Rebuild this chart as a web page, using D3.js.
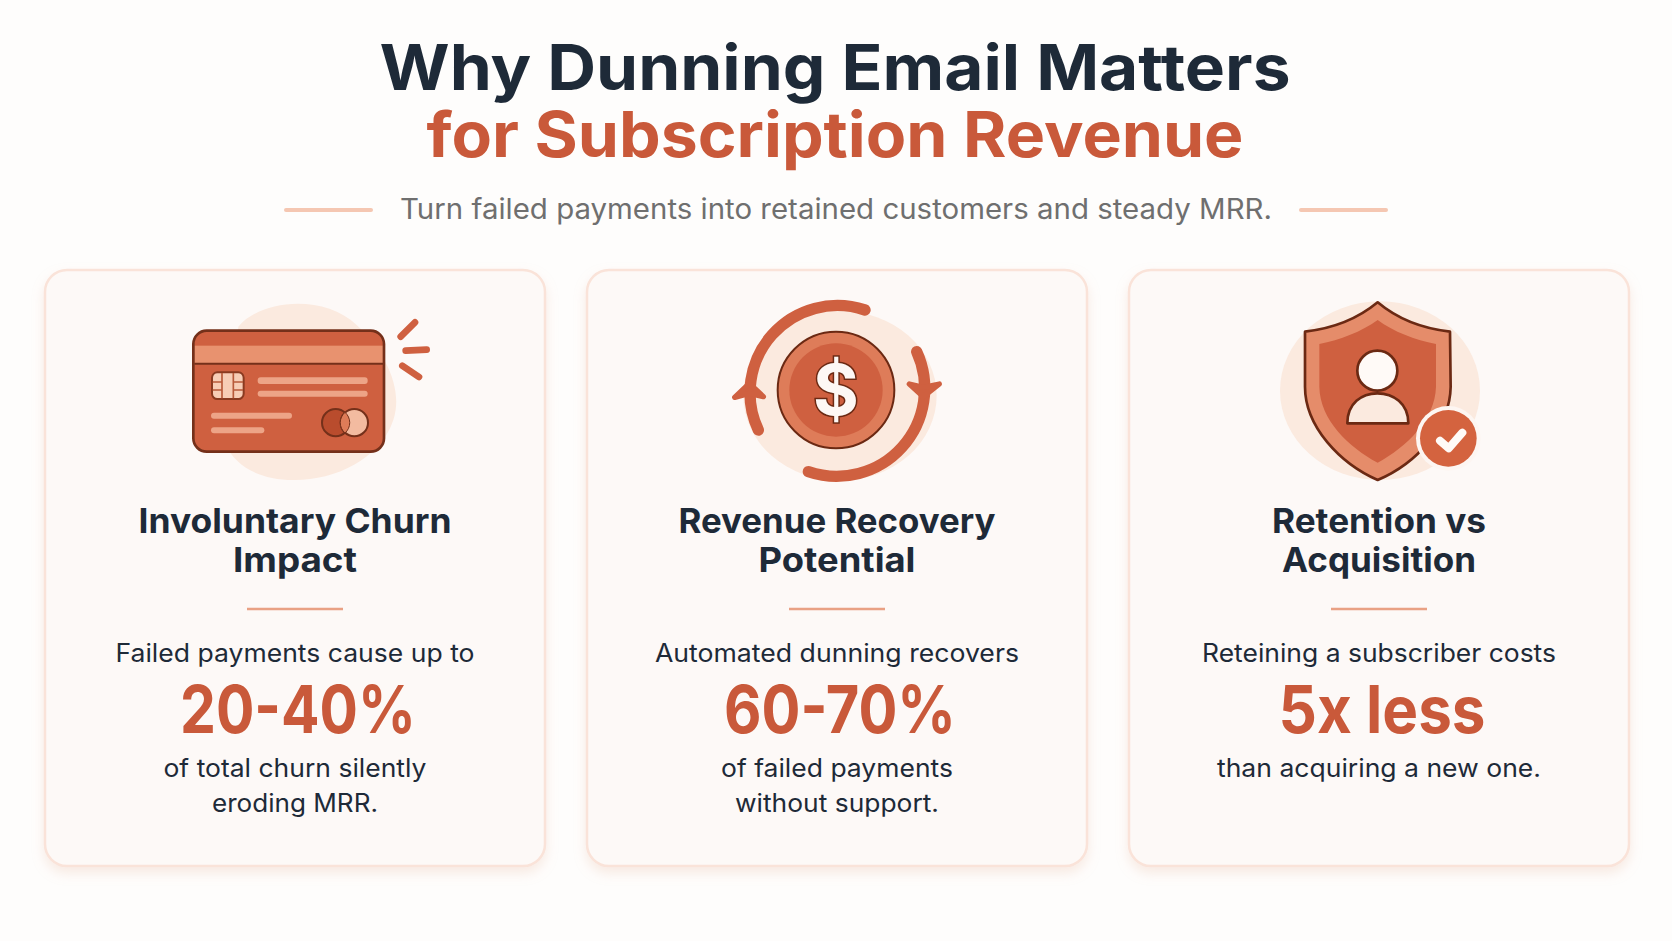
<!DOCTYPE html>
<html lang="en">
<head>
<meta charset="UTF-8">
<title>Why Dunning Email Matters</title>
<script src="https://cdnjs.cloudflare.com/ajax/libs/d3/7.8.5/d3.min.js"></script>
<style>
  html, body { margin: 0; padding: 0; background: #fefdfc; }
  svg { display: block; }
  text { font-family: Inter, "Noto Sans", sans-serif; text-anchor: middle; }
</style>
</head>
<body>
<div id="chart"></div>
<script>
// content
const titleLines = ["Why Dunning Email Matters", "for Subscription Revenue"];
const subtitle = "Turn failed payments into retained customers and steady MRR.";
const categories = ["churn", "recovery", "retention"];
const headings = [["Involuntary Churn", "Impact"], ["Revenue Recovery", "Potential"], ["Retention vs", "Acquisition"]];
const leads = ["Failed payments cause up to", "Automated dunning recovers", "Reteining a subscriber costs"];
const stats = ["20-40%", "60-70%", "5x less"];
const tails = [["of total churn silently", "eroding MRR."], ["of failed payments", "without support."], ["than acquiring a new one."]];

// measured text widths, the reference font runs wider than Inter
const titleW = [911, 817];
const headingW = [[313, 124], [317, 157], [214, 194]];
const leadW = [359, 364, 354];
const statW = [236, 232, 207];
const tailW = [[263, 166], [232, 204], [324]];

const width = 1672, height = 941;
const dark = "#1e2a38", accent = "#c9593a", ink = "#74301a", orange = "#cf6040", pale = "#fbeadf";

const svg = d3.select("#chart").append("svg").attr("width", width).attr("height", height);

function fit(sel, w) {
  return sel.attr("textLength", w).attr("lengthAdjust", "spacingAndGlyphs");
}

const defs = svg.append("defs");
const shadow = defs.append("filter").attr("id", "cardShadow")
  .attr("x", "-5%").attr("y", "-5%").attr("width", "110%").attr("height", "112%");
shadow.append("feDropShadow").attr("dx", 0).attr("dy", 6).attr("stdDeviation", 6)
  .attr("flood-color", "#e8b8a0").attr("flood-opacity", 0.28);

// title block
svg.selectAll(".title").data(titleLines).join("text")
  .attr("class", "title")
  .attr("x", 835).attr("y", (d, i) => 90 + i * 67)
  .attr("font-size", 63).attr("font-weight", 700)
  .attr("fill", (d, i) => i ? accent : dark)
  .attr("textLength", (d, i) => titleW[i]).attr("lengthAdjust", "spacingAndGlyphs")
  .text(d => d);

fit(svg.append("text").attr("x", 836).attr("y", 219)
  .attr("font-size", 28).attr("fill", "#6f6f6f").text(subtitle), 872);

svg.selectAll(".dash").data([286, 1301]).join("line")
  .attr("class", "dash")
  .attr("x1", d => d).attr("x2", d => d + 85)
  .attr("y1", 210).attr("y2", 210)
  .attr("stroke", "#f5c7b2").attr("stroke-width", 4).attr("stroke-linecap", "round");

// cards
const x = d3.scaleBand().domain(categories).range([45, 1629]).paddingInner(0.0775);

const card = svg.selectAll(".card").data(categories).join("g")
  .attr("class", "card")
  .attr("transform", d => `translate(${x(d)},270)`);

card.append("rect")
  .attr("width", x.bandwidth()).attr("height", 596).attr("rx", 22)
  .attr("fill", "#fdf9f7").attr("stroke", "#fae3d9").attr("stroke-width", 2.5)
  .attr("filter", "url(#cardShadow)");

const mid = x.bandwidth() / 2;

card.each(function (d, i) {
  const g = d3.select(this);
  headings[i].forEach((line, j) => {
    fit(g.append("text").attr("x", mid).attr("y", 263 + j * 39)
      .attr("font-size", 34).attr("font-weight", 700).attr("fill", dark).text(line), headingW[i][j]);
  });
  g.append("line").attr("x1", mid - 48).attr("x2", mid + 48).attr("y1", 339).attr("y2", 339)
    .attr("stroke", "#e9a184").attr("stroke-width", 2.5);
  fit(g.append("text").attr("x", mid).attr("y", 392)
    .attr("font-size", 25).attr("fill", dark).text(leads[i]), leadW[i]);
  fit(g.append("text").attr("x", mid + 3).attr("y", 463)
    .attr("font-size", 66).attr("font-weight", 700).attr("fill", accent).text(stats[i]), statW[i]);
  tails[i].forEach((line, j) => {
    fit(g.append("text").attr("x", mid).attr("y", 507 + j * 35)
      .attr("font-size", 25).attr("fill", dark).text(line), tailW[i][j]);
  });
});

// icons, drawn in a 3x space so the numbers are easy to compare with a zoomed crop
function icon(ox, oy) {
  return svg.append("g").attr("transform", `translate(${ox},${oy}) scale(${1 / 3})`);
}

// credit card
const cc = icon(160, 280);
cc.append("path")
  .attr("d", "M235,140 C300,60 490,40 590,135 C680,220 730,330 700,420 C660,540 520,602 400,600 C300,600 225,560 195,490 Z")
  .attr("fill", pale);
cc.append("rect").attr("x", 100).attr("y", 152).attr("width", 572).attr("height", 363).attr("rx", 40)
  .attr("fill", orange);
cc.append("rect").attr("x", 103).attr("y", 197).attr("width", 566).attr("height", 52).attr("fill", "#e8926f");
cc.append("line").attr("x1", 103).attr("x2", 669).attr("y1", 251).attr("y2", 251)
  .attr("stroke", ink).attr("stroke-width", 6);
cc.append("rect").attr("x", 100).attr("y", 152).attr("width", 572).attr("height", 363).attr("rx", 40)
  .attr("fill", "none").attr("stroke", ink).attr("stroke-width", 8);
cc.append("rect").attr("x", 156).attr("y", 277).attr("width", 95).attr("height", 80).attr("rx", 16)
  .attr("fill", "#f7cdb6").attr("stroke", "#8a3a20").attr("stroke-width", 6);
cc.append("path").attr("d", "M186,279 V355 M220,279 V355 M158,306 H186 M158,330 H186 M220,306 H249 M220,330 H249")
  .attr("fill", "none").attr("stroke", "#b85a3a").attr("stroke-width", 5);
[[293, 292, 330, 20], [293, 332, 330, 18], [153, 398, 243, 18], [153, 442, 160, 18]].forEach(r => {
  cc.append("rect").attr("x", r[0]).attr("y", r[1]).attr("width", r[2]).attr("height", r[3]).attr("rx", 9)
    .attr("fill", "#eda487");
});
cc.append("circle").attr("cx", 527).attr("cy", 428).attr("r", 41)
  .attr("fill", "#b94c2d").attr("stroke", ink).attr("stroke-width", 6);
cc.append("circle").attr("cx", 583).attr("cy", 428).attr("r", 41)
  .attr("fill", "#f3bba0").attr("stroke", ink).attr("stroke-width", 6);
cc.append("path").attr("d", "M555,397 A41,41 0 0 1 555,459 A41,41 0 0 1 555,397 Z")
  .attr("fill", "#de7c58").attr("stroke", ink).attr("stroke-width", 3);
[[722, 170, 765, 127], [737, 212, 800, 209], [727, 257, 777, 291]].forEach(s => {
  cc.append("line").attr("x1", s[0]).attr("y1", s[1]).attr("x2", s[2]).attr("y2", s[3])
    .attr("stroke", orange).attr("stroke-width", 20).attr("stroke-linecap", "round");
});

// coin with arrows
const coin = icon(710, 280);
coin.append("ellipse").attr("cx", 390).attr("cy", 347).attr("rx", 290).attr("ry", 255).attr("fill", pale);
coin.append("path").attr("d", "M465,90 A262,262 0 0 0 145,450")
  .attr("fill", "none").attr("stroke", orange).attr("stroke-width", 34).attr("stroke-linecap", "round");
coin.append("path").attr("d", "M620,215 A264,264 0 0 1 295,575")
  .attr("fill", "none").attr("stroke", orange).attr("stroke-width", 34).attr("stroke-linecap", "round");
coin.append("path").attr("d", "M118,310 L160,350 L118,340 L74,352 Z")
  .attr("fill", orange).attr("stroke", orange).attr("stroke-width", 16).attr("stroke-linejoin", "round");
coin.append("path").attr("d", "M640,350 L598,312 L640,322 L688,312 Z")
  .attr("fill", orange).attr("stroke", orange).attr("stroke-width", 16).attr("stroke-linejoin", "round");
coin.append("circle").attr("cx", 378).attr("cy", 330).attr("r", 175)
  .attr("fill", "#de7c59").attr("stroke", "#6b2913").attr("stroke-width", 6);
coin.append("circle").attr("cx", 378).attr("cy", 330).attr("r", 140).attr("fill", orange);
coin.append("text").attr("x", 378).attr("y", 405)
  .attr("font-size", 210).attr("font-weight", 700)
  .attr("fill", "#fdf8f5").attr("stroke", "#6b2913").attr("stroke-width", 9)
  .attr("paint-order", "stroke").text("$");

// shield with subscriber and check badge
const shield = icon(1260, 280);
shield.append("ellipse").attr("cx", 360).attr("cy", 332).attr("rx", 300).attr("ry", 268).attr("fill", pale);
shield.append("path")
  .attr("d", "M353,67 C410,115 480,145 570,155 L572,320 C570,440 470,550 353,600 C240,550 135,440 135,320 L135,155 C225,145 295,115 353,67 Z")
  .attr("fill", "#e58c6a").attr("stroke", "#6b2913").attr("stroke-width", 8).attr("stroke-linejoin", "round");
shield.append("path")
  .attr("d", "M353,120 C400,155 465,180 528,192 L528,320 C525,420 440,500 353,548 C265,500 180,420 178,320 L178,192 C240,180 305,155 353,120 Z")
  .attr("fill", orange);
shield.append("path").attr("d", "M262,430 C262,370 305,340 352,340 C400,340 445,370 445,430 Z")
  .attr("fill", "#fbeadf").attr("stroke", "#6b2913").attr("stroke-width", 8).attr("stroke-linejoin", "round");
shield.append("circle").attr("cx", 352).attr("cy", 272).attr("r", 60)
  .attr("fill", "#fffaf7").attr("stroke", "#6b2913").attr("stroke-width", 8);
shield.append("circle").attr("cx", 565).attr("cy", 475).attr("r", 97).attr("fill", "#fdf6f2");
shield.append("circle").attr("cx", 565).attr("cy", 475).attr("r", 85).attr("fill", "#d4633f");
shield.append("path").attr("d", "M540,482 L566,505 L607,458")
  .attr("fill", "none").attr("stroke", "#fffaf7").attr("stroke-width", 24)
  .attr("stroke-linecap", "round").attr("stroke-linejoin", "round");
</script>
</body>
</html>
